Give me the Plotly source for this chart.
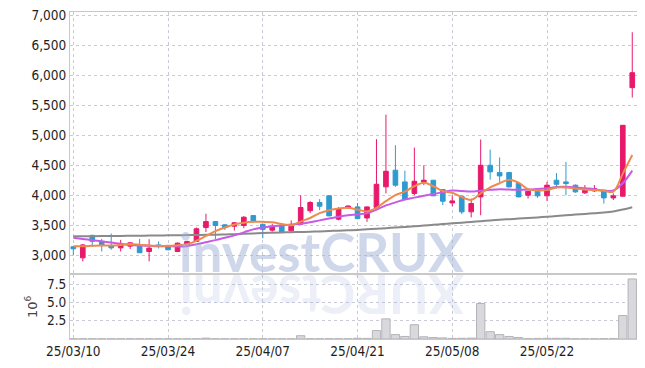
import plotly.graph_objects as go
from plotly.subplots import make_subplots

dates = ["2025-03-10","2025-03-11","2025-03-12","2025-03-13","2025-03-14",
         "2025-03-17","2025-03-18","2025-03-19","2025-03-20","2025-03-21",
         "2025-03-24","2025-03-25","2025-03-26","2025-03-27","2025-03-28",
         "2025-03-31","2025-04-01","2025-04-02","2025-04-03","2025-04-04",
         "2025-04-07","2025-04-08","2025-04-09","2025-04-10","2025-04-11",
         "2025-04-14","2025-04-15","2025-04-16","2025-04-17","2025-04-18",
         "2025-04-21","2025-04-22","2025-04-23","2025-04-24","2025-04-25",
         "2025-04-28","2025-04-29","2025-04-30","2025-05-02","2025-05-07",
         "2025-05-08","2025-05-09","2025-05-12","2025-05-13","2025-05-14",
         "2025-05-15","2025-05-16","2025-05-19","2025-05-20","2025-05-21",
         "2025-05-22","2025-05-23","2025-05-26","2025-05-27","2025-05-28",
         "2025-05-29","2025-05-30","2025-06-02","2025-06-04","2025-06-05"]

open_ = [3140,2955,3330,3228,3160,3122,3150,3160,3060,3170,
         3150,3060,3172,3228,3460,3560,3505,3483,3495,3660,
         3515,3417,3500,3405,3517,3740,3878,3990,3600,3790,
         3805,3620,3795,4140,4417,4222,4028,4222,4250,4095,
         3872,3983,3722,3972,4500,4378,4378,4195,4000,4067,
         3990,4250,4222,4167,4040,4072,4083,3955,3983,5795]
high = [3150,3185,3340,3270,3360,3255,3215,3270,3265,3230,
        3160,3210,3240,3460,3690,3570,3520,3550,3650,3670,
        3520,3520,3510,3580,4000,3900,3935,4000,3800,3830,
        3870,3810,4935,5345,4835,4410,4795,4500,4255,4100,
        4000,3990,3945,4930,4760,4630,4390,4200,4070,4075,
        4222,4370,4555,4180,4170,4170,4090,4030,5170,6720]
low = [2995,2895,3140,3060,3090,3060,3100,3040,2895,3110,
       3080,3050,3140,3220,3385,3270,3420,3410,3450,3540,
       3280,3390,3380,3390,3510,3700,3750,3650,3580,3770,
       3600,3555,3750,4030,4140,3920,4000,4167,3985,3835,
       3815,3685,3630,3665,4260,4222,4130,3965,3945,3955,
       3905,4110,4000,4040,4020,4055,3860,3920,3980,5630]
close = [3105,3170,3230,3172,3122,3194,3205,3040,3117,3145,
         3090,3200,3228,3440,3560,3495,3460,3540,3633,3560,
         3430,3483,3390,3483,3795,3878,3817,3655,3778,3820,
         3610,3805,4183,4400,4167,3933,4233,4250,3990,3900,
         3905,3722,3861,4500,4390,4322,4139,3972,4067,3990,
         4167,4183,4195,4056,4083,4111,3955,3990,5167,6045]

ma_short = [3150,3150,3155,3160,3160,3170,3185,3175,3160,3155,
            3155,3165,3180,3240,3320,3400,3460,3510,3540,3555,
            3555,3550,3520,3500,3560,3620,3700,3750,3780,3790,
            3760,3730,3790,3900,4000,4060,4150,4210,4150,4070,
            4040,3970,3920,4030,4130,4200,4260,4210,4100,4080,
            4085,4130,4130,4110,4095,4085,4075,4060,4360,4670]
ma_mid = [3290,3270,3250,3230,3210,3190,3170,3160,3155,3150,
          3150,3145,3150,3180,3215,3250,3290,3330,3380,3430,
          3460,3480,3495,3510,3525,3550,3580,3610,3640,3665,
          3680,3700,3760,3830,3880,3930,3960,3990,4020,4050,
          4080,4070,4060,4075,4090,4100,4095,4090,4095,4105,
          4115,4135,4140,4130,4115,4100,4075,4080,4200,4410]
ma_long = [3315,3316,3317,3318,3319,3320,3322,3324,3326,3328,
           3330,3332,3334,3336,3338,3340,3345,3350,3355,3362,
           3370,3374,3378,3382,3386,3390,3396,3402,3408,3414,
           3420,3430,3440,3450,3460,3470,3482,3494,3506,3518,
           3530,3542,3554,3566,3578,3590,3600,3610,3620,3630,
           3640,3652,3664,3676,3688,3700,3712,3730,3760,3800]

volume_m = [0.03,0.03,0.03,0.03,0.03,0.03,0.03,0.03,0.03,0.03,
            0.03,0.03,0.03,0.04,0.12,0.03,0.03,0.03,0.03,0.03,
            0.03,0.03,0.03,0.03,0.45,0.04,0.04,0.04,0.04,0.04,
            0.10,0.08,1.15,2.75,0.60,0.35,1.95,0.30,0.20,0.15,
            0.08,0.10,0.12,4.85,1.00,0.60,0.35,0.20,0.05,0.08,
            0.10,0.10,0.10,0.04,0.04,0.04,0.05,0.05,3.20,8.20]

tick_idx = [0, 10, 20, 30, 40, 50]
tick_vals = [dates[i] for i in tick_idx]
tick_text = [d[2:4] + "/" + d[5:7] + "/" + d[8:10] for d in tick_vals]

UP = "#e8196b"
DOWN = "#2f9ad0"
TICKFONT = dict(family="DejaVu Sans Condensed, DejaVu Sans, sans-serif", size=13.5, color="#1e1e1e")

fig = make_subplots(rows=2, cols=1, shared_xaxes=True)

fig.add_trace(go.Candlestick(
    x=dates, open=open_, high=high, low=low, close=close,
    increasing=dict(line=dict(color=UP, width=1), fillcolor=UP),
    decreasing=dict(line=dict(color=DOWN, width=1), fillcolor=DOWN),
    whiskerwidth=0, showlegend=False), row=1, col=1)

fig.add_trace(go.Scatter(x=dates, y=ma_long, mode="lines", line=dict(color="#8a8a8a", width=2, shape="spline"), showlegend=False), row=1, col=1)
fig.add_trace(go.Scatter(x=dates, y=ma_mid, mode="lines", line=dict(color="#c85be6", width=2, shape="spline"), showlegend=False), row=1, col=1)
fig.add_trace(go.Scatter(x=dates, y=ma_short, mode="lines", line=dict(color="#ee8a4e", width=2, shape="spline"), showlegend=False), row=1, col=1)

fig.add_trace(go.Bar(x=dates, y=volume_m, marker=dict(color="#d9d9dd", line=dict(color="#b4b4b8", width=1)), showlegend=False), row=2, col=1)

grid = dict(showgrid=True, gridcolor="#c8cbd6", griddash="dot", gridwidth=1,
            showline=True, linecolor="#c8c8c8", linewidth=1, mirror=True,
            zeroline=False, ticks="", automargin=False, tickfont=TICKFONT)

fig.update_xaxes(type="category", range=[-0.35, 59.5], tickvals=tick_vals, ticktext=tick_text,
                 rangeslider=dict(visible=False), **grid)
fig.update_xaxes(showticklabels=False, row=1, col=1)
fig.update_yaxes(ticklabeloverflow="allow", **grid)
fig.update_layout(
    width=645, height=368,
    margin=dict(l=62, r=16, t=4, b=36.5, autoexpand=False),
    paper_bgcolor="white", plot_bgcolor="white",
    bargap=0.12, boxgap=0.3,
    yaxis=dict(domain=[0.203, 1], range=[2708, 7058], tickvals=[3000,3500,4000,4500,5000,5500,6000,6500,7000],
               tickformat=",d"),
    yaxis2=dict(domain=[0, 0.197], range=[0, 8.8], tickvals=[2.5, 5.0, 7.5], ticktext=["2.5", "5.0", "7.5"],
                title=dict(text="10<sup>6</sup>", font=dict(family="DejaVu Sans", size=13, color="#444"), standoff=6)),
)

fig.add_annotation(xref="paper", yref="paper", x=0.4436, y=0.267, xanchor="center", yanchor="middle",
                   text="<b>investCRUX</b>", showarrow=False,
                   font=dict(family="Lato, Open Sans, sans-serif", size=53, color="rgba(160,175,215,0.5)"))
fig.add_annotation(xref="paper", yref="paper", x=0.4436, y=0.135, xanchor="center", yanchor="middle",
                   text="<b>XURCtsevni</b>", textangle=180, showarrow=False,
                   font=dict(family="Lato, Open Sans, sans-serif", size=53, color="rgba(160,175,215,0.2)"))

fig.write_html("out.html")
